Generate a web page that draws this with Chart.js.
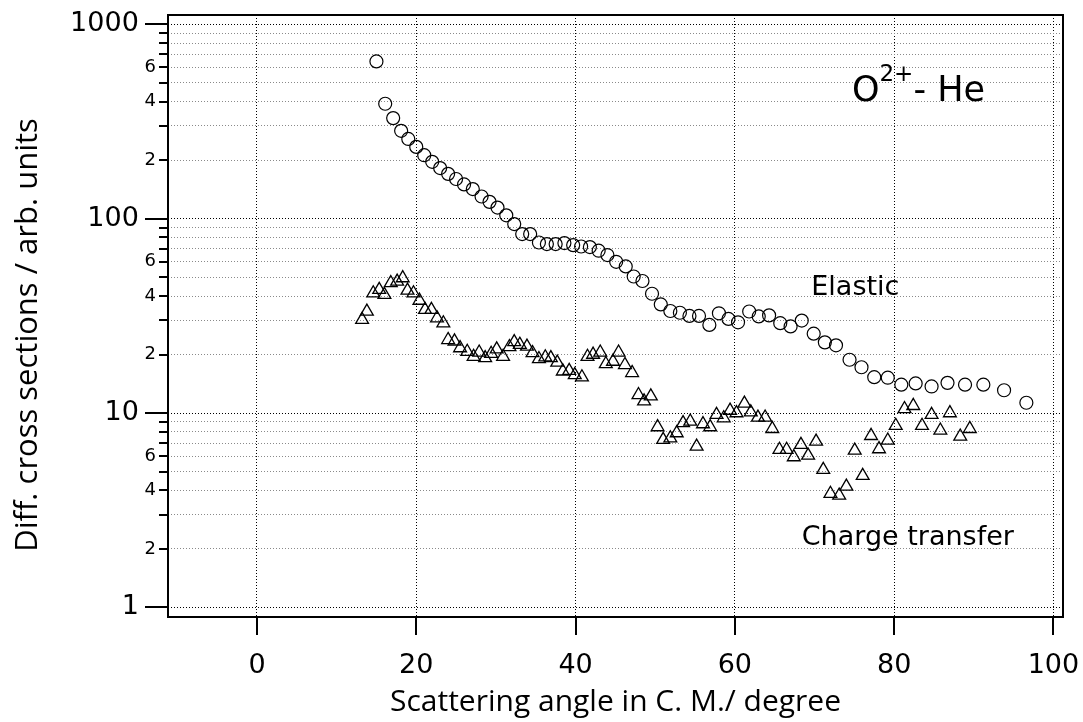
<!DOCTYPE html>
<html>
<head>
<meta charset="utf-8">
<script src="https://cdn.jsdelivr.net/npm/chart.js@4"></script>
<style>
  html, body { margin: 0; padding: 0; background: #fff; }
  #wrap { width: 1083px; height: 722px; }
</style>
</head>
<body>
<div id="wrap"><canvas id="chart"></canvas></div>
<script>
// elastic scattering (open circles)
const elasticAngle = [15.0, 16.1, 17.1, 18.1, 19.0, 20.0, 21.0, 22.0, 23.0, 24.0,
  25.0, 26.0, 27.1, 28.2, 29.2, 30.2, 31.3, 32.3, 33.3, 34.3,
  35.4, 36.4, 37.5, 38.6, 39.7, 40.7, 41.8, 42.9, 44.0, 45.1,
  46.3, 47.3, 48.4, 49.6, 50.7, 51.9, 53.1, 54.3, 55.5, 56.8,
  58.0, 59.2, 60.4, 61.8, 63.0, 64.3, 65.7, 67.0, 68.4, 69.9,
  71.3, 72.7, 74.4, 75.9, 77.5, 79.2, 80.9, 82.7, 84.7, 86.7,
  88.9, 91.2, 93.8, 96.6];
const elasticValue = [644, 390, 329, 283, 257, 234, 212, 196, 182, 170,
  160, 150, 142, 130, 122, 114, 104, 93.8, 83.3, 83.3,
  75.4, 74, 74, 74.9, 73.1, 71.9, 71.4, 68.4, 65, 60,
  56.8, 50.4, 47.8, 41.1, 36.2, 33.5, 32.8, 31.6, 31.6, 28.4,
  32.6, 30.5, 29.3, 33.3, 31.4, 31.8, 29, 27.9, 29.9, 25.6,
  23.1, 22.3, 18.8, 17.2, 15.3, 15.2, 14, 14.2, 13.7, 14.3,
  14, 14, 13.1, 11.3];

// charge transfer (open triangles)
const transferAngle = [13.2, 13.8, 14.6, 15.35, 16.0, 16.8, 17.6, 18.3, 18.9, 19.65,
  20.4, 21.1, 21.9, 22.6, 23.4, 24.0, 24.8, 25.5, 26.4, 27.2,
  27.9, 28.65, 29.4, 30.1, 30.9, 31.7, 32.3, 33.0, 33.9, 34.6,
  35.4, 36.2, 36.9, 37.7, 38.4, 39.2, 39.9, 40.8, 41.5, 42.2,
  43.1, 43.8, 44.7, 45.4, 46.2, 47.1, 47.9, 48.6, 49.45, 50.3,
  51.0, 51.9, 52.7, 53.5, 54.4, 55.2, 56.0, 56.9, 57.7, 58.6,
  59.4, 60.2, 61.2, 62.0, 62.9, 63.8, 64.7, 65.6, 66.5, 67.4,
  68.3, 69.2, 70.2, 71.1, 72.0, 73.1, 74.0, 75.05, 76.05, 77.1,
  78.1, 79.2, 80.2, 81.3, 82.4, 83.5, 84.7, 85.8, 87.0, 88.3,
  89.5];
const transferValue = [30.2, 33.3, 41.4, 43.1, 40.6, 46.7, 47.5, 49.5, 42.7, 41.4,
  37.9, 34, 34, 30.8, 29, 23.8, 23.4, 21.6, 20.7, 19.5,
  20.5, 19.2, 20.2, 21.3, 19.5, 21.9, 23.2, 22.5, 22, 20.4,
  19, 19.4, 19.2, 18.2, 16.4, 16.5, 15.7, 15.3, 19.5, 20,
  20.5, 17.9, 18.4, 20.5, 17.7, 16.1, 12.4, 11.5, 12.2, 8.47,
  7.29, 7.43, 7.89, 8.89, 9.06, 6.73, 8.78, 8.47, 9.8, 9.42,
  10.3, 10, 11.2, 10.1, 9.49, 9.5, 8.3, 6.48, 6.48, 5.94,
  6.87, 6.05, 7.14, 5.11, 3.85, 3.77, 4.19, 6.42, 4.76, 7.64,
  6.53, 7.23, 8.61, 10.5, 10.9, 8.61, 9.8, 8.14, 10, 7.58,
  8.3];

const xTicks = [0, 20, 40, 60, 80, 100];
const yDecades = [1, 10, 100, 1000];
const yLabelledMinors = [2, 4, 6];

const xTitle = 'Scattering angle in C. M./ degree';
const yTitle = 'Diff. cross sections / arb. units';

const isDecade = (v) => yDecades.includes(v);
const mantissa = (v) => Math.round(v / Math.pow(10, Math.floor(Math.log10(v) + 1e-9)));

const toPoints = (xs, ys) => xs.map((x, i) => ({ x, y: ys[i] }));

// the labels may stick out of the axis box, like in the original, so drop the extra padding
const noLabelPadding = (scale) => {
  scale.paddingTop = 0;
  scale.paddingBottom = 0;
  scale.paddingLeft = 0;
  scale.paddingRight = 0;
};

const frameAndNotes = {
  id: 'frameAndNotes',
  afterDraw(chart) {
    const { ctx, chartArea: a, scales: { x, y } } = chart;
    ctx.save();
    ctx.strokeStyle = '#000';
    ctx.lineWidth = 2;
    ctx.beginPath();
    y.ticks.forEach((t) => {
      const py = Math.round(y.getPixelForValue(t.value));
      const len = isDecade(t.value) ? 23 : 9;
      ctx.moveTo(a.left - len, py);
      ctx.lineTo(a.left, py);
    });
    x.ticks.forEach((t) => {
      const px = Math.round(x.getPixelForValue(t.value));
      ctx.moveTo(px, a.bottom);
      ctx.lineTo(px, a.bottom + 18);
    });
    ctx.stroke();
    ctx.strokeRect(a.left, a.top, a.right - a.left, a.bottom - a.top);

    ctx.fillStyle = '#000';
    ctx.textBaseline = 'alphabetic';
    ctx.textAlign = 'left';

    // series labels
    ctx.font = '27px "DejaVu Sans"';
    ctx.fillText('Elastic', x.getPixelForValue(69.6), y.getPixelForValue(40.6));
    ctx.fillText('Charge transfer', x.getPixelForValue(68.4), y.getPixelForValue(2.1));

    // collision system
    let px = x.getPixelForValue(74.7);
    const base = y.getPixelForValue(401);
    ctx.font = '35px "DejaVu Sans"';
    ctx.fillText('O', px, base);
    px += ctx.measureText('O').width;
    ctx.font = '23px "DejaVu Sans"';
    ctx.fillText('2+', px, base - 20);
    px += ctx.measureText('2+').width;
    ctx.font = '35px "DejaVu Sans"';
    ctx.fillText('- He', px, base);

    // y title, sits a little below the middle of the frame in the original
    ctx.translate(28, 335);
    ctx.rotate(-Math.PI / 2);
    ctx.textAlign = 'center';
    ctx.textBaseline = 'middle';
    ctx.font = '31px "Open Sans"';
    ctx.fillText(yTitle, 0, 0);
    ctx.restore();
  }
};

new Chart(document.getElementById('chart'), {
  type: 'scatter',
  data: {
    datasets: [
      {
        label: 'Elastic',
        data: toPoints(elasticAngle, elasticValue),
        pointStyle: 'circle',
        pointRadius: 6.5,
        pointBorderWidth: 1.2,
        pointBorderColor: '#000',
        pointBackgroundColor: 'rgba(255,255,255,0)',
      },
      {
        label: 'Charge transfer',
        data: toPoints(transferAngle, transferValue),
        pointStyle: 'triangle',
        pointRadius: 7.4,
        pointBorderWidth: 1.3,
        pointBorderColor: '#000',
        pointBackgroundColor: 'rgba(255,255,255,0)',
      },
    ],
  },
  options: {
    responsive: true,
    maintainAspectRatio: false,
    devicePixelRatio: 1,
    animation: false,
    layout: { padding: { top: 15, right: 20, left: 0, bottom: 0 } },
    plugins: { legend: { display: false }, tooltip: { enabled: false } },
    scales: {
      x: {
        type: 'linear',
        min: -11.17,
        max: 101.2,
        afterBuildTicks: (scale) => { scale.ticks = xTicks.map((v) => ({ value: v })); },
        afterFit: (scale) => { scale.height = 105; noLabelPadding(scale); },
        grid: { color: '#000', lineWidth: 1, drawTicks: false },
        border: { display: false, dash: [1, 2] },
        ticks: {
          color: '#000',
          padding: 33,
          maxRotation: 0,
          autoSkip: false,
          font: { family: 'DejaVu Sans', size: 27 },
          callback: (v) => String(v),
        },
        title: {
          display: true,
          text: xTitle,
          color: '#000',
          font: { family: 'Open Sans', size: 30 },
          padding: { top: 0, bottom: 2 },
        },
      },
      y: {
        type: 'logarithmic',
        min: 0.893,
        max: 1116,
        afterBuildTicks: (scale) => {
          const ticks = [];
          [1, 10, 100].forEach((d) => {
            for (let k = 1; k <= 9; k++) ticks.push({ value: d * k });
          });
          ticks.push({ value: 1000 });
          scale.ticks = ticks;
        },
        afterFit: (scale) => { scale.width = 168; noLabelPadding(scale); },
        grid: {
          color: (c) => (c.tick && isDecade(c.tick.value) ? '#000' : '#8a8a8a'),
          lineWidth: 1,
          drawTicks: false,
        },
        border: { display: false, dash: [1, 2] },
        ticks: {
          color: '#000',
          padding: 12,
          autoSkip: false,
          font: (c) => ({ family: 'DejaVu Sans', size: c.tick && isDecade(c.tick.value) ? 27 : 18 }),
          callback: (v) => {
            // decade labels sit further out, beyond their longer tick marks
            if (isDecade(v)) return String(v) + '  ';
            const m = mantissa(v);
            return yLabelledMinors.includes(m) ? String(m) : '';
          },
        },
        title: { display: false },
      },
    },
  },
  plugins: [frameAndNotes],
});
</script>
</body>
</html>
